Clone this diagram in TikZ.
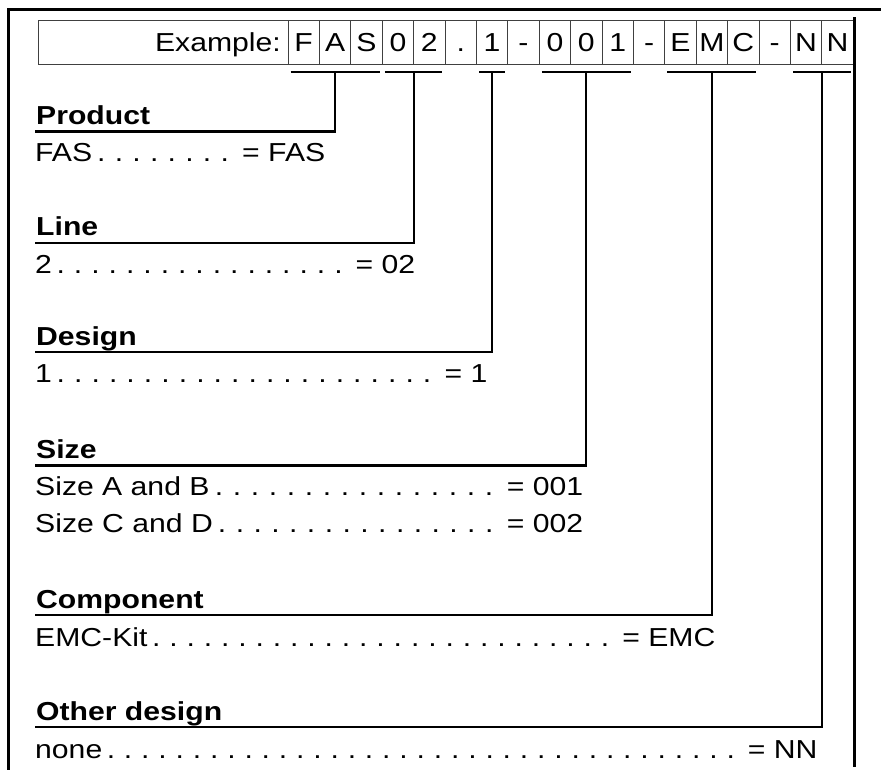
\documentclass[tikz,border=0pt]{standalone}
\usepackage{fontspec}
\setmainfont[FakeStretch=1.16]{Liberation Sans}
\usetikzlibrary{calc}
\newcommand{\codefont}{\fontsize{26}{30}\selectfont}
\newcommand{\dotline}{\xleaders\hbox to 17pt{\hss.\hss}\hfill}
\newcommand{\codeline}[3]{\hbox to #1{#2\dotline\ = #3}}
\tikzset{
  frame/.style = {line width=3pt,line cap=rect},
  exbox/.style = {draw=black!75,line width=0.8pt},
  cell/.style  = {draw=black!75,line width=0.8pt,minimum width=31.4pt,
                  minimum height=44pt,inner sep=0pt,text height=18.6pt,
                  text depth=0pt,font=\codefont},
  bar/.style   = {line width=2.2pt},
  head/.style  = {anchor=base west,inner sep=0pt,font=\codefont\bfseries},
  entry/.style = {anchor=base west,inner sep=0pt,font=\codefont},
}

\begin{document}
\begin{tikzpicture}[x=1pt,y=-1pt]
  \useasboundingbox (0,0) rectangle (881,770);
  % frame
  \draw[frame] (8,770) -- (8,10) -- (881,10);
  % example code
  \draw[exbox] (38,20) rectangle (854,64);
  \node[anchor=base east,inner sep=0pt,font=\codefont] (exlabel) at (281,51.5) {Example:};
  \foreach \ch [count=\i] in {F,A,S,0,2,.,1,-,0,0,1,-,E,M,C,-,N,N}
    \node[cell] (c\i) at ({288+31.4*(\i-0.5)},42) {\ch};
  \draw[frame] (854,19) -- (854,765);
  % brackets down to the headings
  \foreach \a/\b/\u/\ly in {1/3/prod/131.5,4/5/line/243,7/7/des/352,
                            9/11/size/465.5,13/15/comp/615,17/18/oth/727}{
    \coordinate (u\u) at (35,\ly);
    \draw[bar] ([shift={(3,8)}]c\a.south west) -- coordinate[midway] (g\u)
               ([shift={(-3,8)}]c\b.south east);
    \draw[bar] (g\u) |- (u\u);
  }
  % headings and values
  \node[head] (hprod) at (36,124.5) {Product};
  \node[entry] (vprod) at (35,162) {\codeline{290pt}{FAS}{FAS}};
  \node[head] (hline) at (36,236) {Line};
  \node[entry] (vline) at (35,273) {\codeline{380pt}{2}{02}};
  \node[head] (hdes) at (36,345) {Design};
  \node[entry] (vdes) at (35,382) {\codeline{452pt}{1}{1}};
  \node[head] (hsize) at (36,458.5) {Size};
  \node[entry] (vsizea) at (35,495) {\codeline{548pt}{Size A and B}{001}};
  \node[entry] (vsizec) at (35,532) {\codeline{548pt}{Size C and D}{002}};
  \node[head] (hcomp) at (36,608) {Component};
  \node[entry] (vcomp) at (35,646) {\codeline{680pt}{EMC-Kit}{EMC}};
  \node[head] (hoth) at (36,720) {Other design};
  \node[entry] (voth) at (35,758) {\codeline{782pt}{none}{NN}};
\end{tikzpicture}
\end{document}
